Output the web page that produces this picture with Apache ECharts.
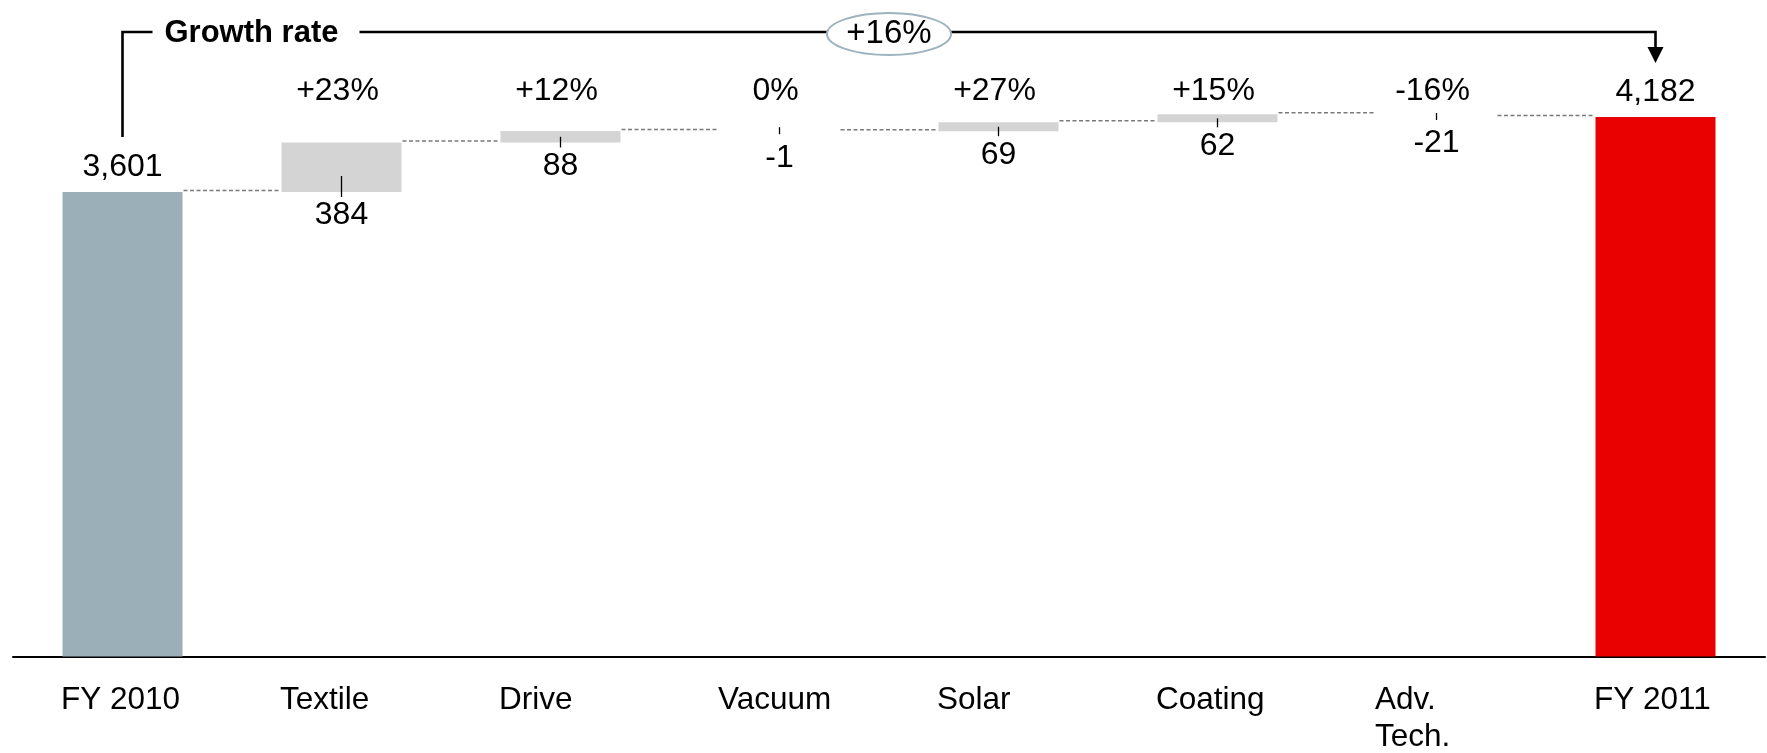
<!DOCTYPE html>
<html>
<head>
<meta charset="utf-8">
<script src="https://cdn.jsdelivr.net/npm/echarts@6/dist/echarts.min.js"></script>
<style>
  html, body { margin: 0; padding: 0; background: #ffffff; }
  #chart { width: 1767px; height: 753px; }
</style>
</head>
<body>
<div id="chart"></div>
<script>
// Sales bridge FY 2010 -> FY 2011 by division
const categories = ['FY 2010', 'Textile', 'Drive', 'Vacuum', 'Solar', 'Coating', 'Adv.\nTech.', 'FY 2011'];
const values = [3601, 384, 88, -1, 69, 62, -21, 4182];
const isTotal = [true, false, false, false, false, false, false, true];
const growthLabels = ['', '+23%', '+12%', '0%', '+27%', '+15%', '-16%', ''];
const overallGrowth = '+16%';
const headerTitle = 'Growth rate';

const FONT = '"Liberation Sans", Arial, Helvetica, sans-serif';
const Y_MAX = 5000;
const BAR_W = 120;
const LABEL_SIZE = 32;
const COLOR_START = '#9aafb8';
const COLOR_END = '#e90000';
const COLOR_UP = '#d4d4d4';
const COLOR_DOWN = '#ffffff';

// Floating segments of the bridge: invisible base + visible span
const base = [];
const span = [];
const levelAfter = [];
let running = 0;
values.forEach((v, i) => {
  if (isTotal[i]) {
    base.push(0);
    span.push(v);
    running = v;
  } else {
    const next = running + v;
    base.push(Math.min(running, next));
    span.push(Math.abs(v));
    running = next;
  }
  levelAfter.push(running);
});
const n = categories.length;

const fmt = v => v.toLocaleString('en-US');

function barColor(i) {
  if (i === 0) return COLOR_START;
  if (i === n - 1) return COLOR_END;
  return values[i] >= 0 ? COLOR_UP : COLOR_DOWN;
}

function txt(text, x, y, size, align, weight) {
  return {
    type: 'text',
    style: {
      text: text, x: x, y: y,
      font: (weight || 'normal') + ' ' + size + 'px ' + FONT,
      fill: '#000000',
      align: align || 'center',
      verticalAlign: 'middle'
    }
  };
}

// Connectors, value labels, leader ticks and growth rates per category
function renderAnnotations(params, api) {
  const i = params.dataIndex;
  const x = api.coord([i, 0])[0];
  const band = api.size([1, 0])[0];
  const half = BAR_W / 2;
  const top = api.coord([i, base[i] + span[i]])[1];
  const bottom = api.coord([i, base[i]])[1];
  const pctY = api.coord([i, Y_MAX])[1] + 80;
  const children = [];

  if (i < n - 1) {
    const yL = api.coord([i, levelAfter[i]])[1] - 1.5;
    children.push({
      type: 'line',
      shape: { x1: x + half + 1, y1: yL, x2: x + band - half - 2, y2: yL },
      style: { stroke: '#7a7a7a', lineWidth: 1.5, lineDash: [4, 2.5] }
    });
  }

  if (isTotal[i]) {
    children.push(txt(fmt(values[i]), x, top - 25, LABEL_SIZE));
  } else {
    const neg = values[i] < 0;
    const t1 = neg ? bottom - 4 : Math.max((top + bottom) / 2, bottom - 16);
    children.push({
      type: 'line',
      shape: { x1: x, y1: t1, x2: x, y2: bottom + (neg ? 3 : 5) },
      style: { stroke: '#000000', lineWidth: 1.3 }
    });
    children.push(txt(fmt(values[i]), x, bottom + (neg ? 26.5 : 23.5), LABEL_SIZE));
    children.push(txt(growthLabels[i], x - 4, pctY, LABEL_SIZE));
  }
  return { type: 'group', children: children };
}

// Overall growth bracket from the first total to the last total
function renderHeader(params, api) {
  const p0 = api.coord([0, values[0]]);
  const p1 = api.coord([n - 1, values[n - 1]]);
  const lineY = api.coord([0, Y_MAX])[1] + 20.5;
  const startY = p0[1] - 55;
  const tipY = p1[1] - 54;
  const midX = (p0[0] + p1[0]) / 2;
  const stroke = { stroke: '#000000', lineWidth: 2.6, fill: null };
  return {
    type: 'group',
    children: [
      { type: 'polyline', shape: { points: [[p0[0], startY], [p0[0], lineY], [p0[0] + 30, lineY]] }, style: stroke },
      txt(headerTitle, p0[0] + 42, lineY + 1.5, 31, 'left', 'bold'),
      { type: 'polyline', shape: { points: [[p0[0] + 237, lineY], [p1[0], lineY], [p1[0], tipY - 15]] }, style: stroke },
      { type: 'polygon', shape: { points: [[p1[0] - 8, tipY - 16], [p1[0] + 8, tipY - 16], [p1[0], tipY]] }, style: { fill: '#000000' } },
      { type: 'ellipse', shape: { cx: midX, cy: lineY + 2, rx: 62, ry: 21 }, style: { fill: '#ffffff', stroke: '#9db3bd', lineWidth: 2 } },
      txt(overallGrowth, midX, lineY + 2, 33)
    ]
  };
}

const chart = echarts.init(document.getElementById('chart'), null, { renderer: 'canvas' });
chart.setOption({
  animation: false,
  backgroundColor: '#ffffff',
  grid: { left: 13, right: 2, top: 11.5, bottom: 93.5, containLabel: false },
  xAxis: {
    type: 'category',
    data: categories,
    boundaryGap: true,
    axisTick: { show: false },
    axisLine: { show: true, lineStyle: { color: '#000000', width: 2 } },
    axisLabel: {
      interval: 0,
      margin: 25,
      align: 'center',
      verticalAlign: 'top',
      formatter: v => v.split('\n').map(s => '{a|' + s + '}').join('\n'),
      rich: {
        a: { width: 123, align: 'left', fontSize: 31.5, lineHeight: 37, fontFamily: FONT, color: '#000000' }
      }
    }
  },
  yAxis: {
    type: 'value', min: 0, max: Y_MAX, show: false,
    splitLine: { show: false }
  },
  series: [
    {
      name: 'base', type: 'bar', stack: 'bridge', barWidth: BAR_W,
      data: base,
      itemStyle: { color: 'rgba(0,0,0,0)' },
      silent: true
    },
    {
      name: 'value', type: 'bar', stack: 'bridge', barWidth: BAR_W,
      data: span.map((v, i) => ({ value: v, itemStyle: { color: barColor(i) } }))
    },
    {
      name: 'annotations', type: 'custom', z: 5,
      data: categories.map((c, i) => [i, levelAfter[i]]),
      encode: { x: 0, y: 1 },
      renderItem: renderAnnotations
    },
    {
      name: 'header', type: 'custom', z: 6,
      data: [[0, values[0]]],
      encode: { x: 0, y: 1 },
      renderItem: renderHeader
    }
  ]
});
</script>
</body>
</html>
